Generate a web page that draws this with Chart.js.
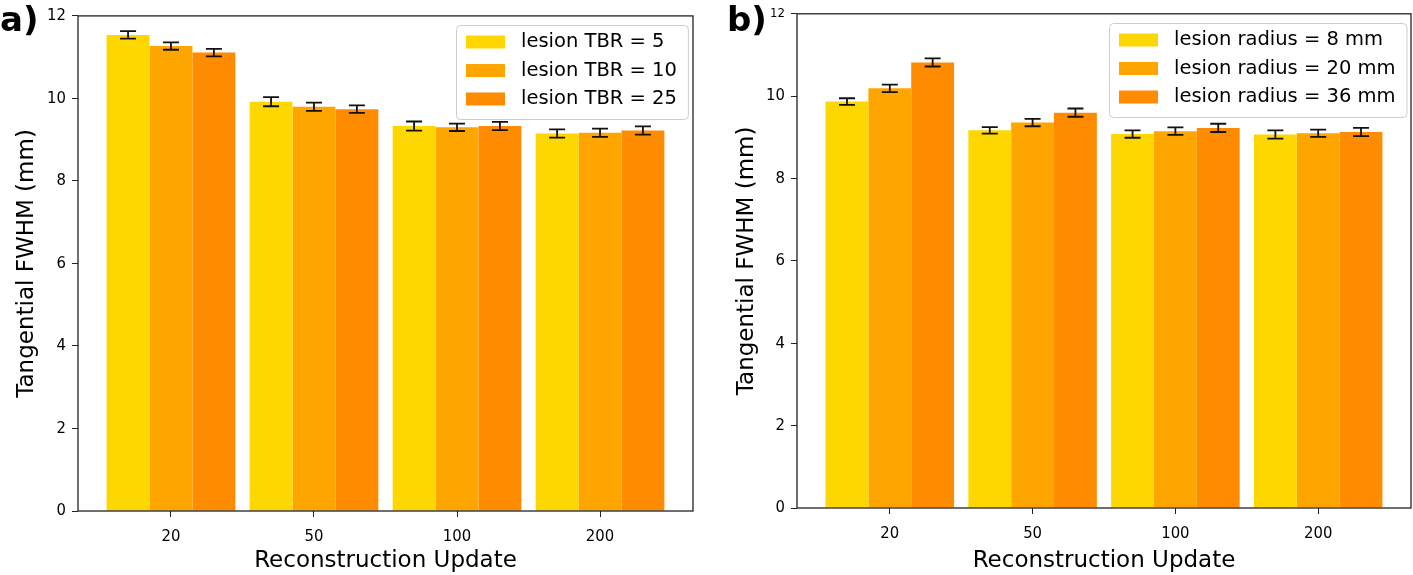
<!DOCTYPE html>
<html>
<head>
<meta charset="utf-8">
<script src="https://cdn.jsdelivr.net/npm/chart.js@4.4.0/dist/chart.umd.min.js"></script>
<style>
  html, body { margin: 0; padding: 0; background: #fff; }
  #wrap { position: relative; width: 1413px; height: 575px; overflow: hidden; }
  .panel { position: absolute; top: 0; height: 575px; }
  .tag { position: absolute; font: bold 34px 'DejaVu Sans', sans-serif; line-height: 1; color: #000; }
</style>
</head>
<body>
<div id="wrap">
  <div class="panel" style="left:0;width:706px"><canvas id="chartA" width="706" height="575"></canvas></div>
  <div class="panel" style="left:720px;width:693px"><canvas id="chartB" width="693" height="575"></canvas></div>
  <div class="tag" style="left:0;top:2px">a)</div>
  <div class="tag" style="left:727px;top:2px">b)</div>
</div>
<script>
// Categories (x axis)
const updates = ['20', '50', '100', '200'];
const yTicks = [0, 2, 4, 6, 8, 10, 12];

// Panel a: lesion TBR
const tbrLabels = ['lesion TBR = 5', 'lesion TBR = 10', 'lesion TBR = 25'];
const tbr5 = [11.54, 9.92, 9.33, 9.15];
const tbr10 = [11.27, 9.80, 9.30, 9.17];
const tbr25 = [11.11, 9.74, 9.33, 9.22];
const tbr5Err = [0.09, 0.11, 0.11, 0.10];
const tbr10Err = [0.09, 0.10, 0.09, 0.10];
const tbr25Err = [0.09, 0.09, 0.10, 0.10];

// Panel b: lesion radius
const radiusLabels = ['lesion radius = 8 mm', 'lesion radius = 20 mm', 'lesion radius = 36 mm'];
const r8 = [9.87, 9.17, 9.08, 9.07];
const r20 = [10.19, 9.36, 9.15, 9.10];
const r36 = [10.82, 9.60, 9.23, 9.13];
const r8Err = [0.08, 0.08, 0.09, 0.10];
const r20Err = [0.09, 0.09, 0.09, 0.09];
const r36Err = [0.10, 0.10, 0.10, 0.10];

const colors = ['#FFD700', '#FFA500', '#FF8C00'];
const FONT = "'DejaVu Sans', sans-serif";
const TICK_FONT = "'DejaVu Sans Condensed', 'DejaVu Sans', sans-serif";

// Error bars drawn through the y scale
const errorBarPlugin = {
  id: 'errorBars',
  afterDatasetsDraw(chart) {
    const ctx = chart.ctx;
    const y = chart.scales.y;
    ctx.save();
    ctx.strokeStyle = '#111';
    ctx.lineWidth = 1.8;
    chart.data.datasets.forEach((ds, i) => {
      const meta = chart.getDatasetMeta(i);
      meta.data.forEach((bar, j) => {
        const v = ds.data[j].y, e = ds.errors[j];
        const top = y.getPixelForValue(v + e);
        const bot = y.getPixelForValue(v - e);
        ctx.beginPath();
        ctx.moveTo(bar.x, top); ctx.lineTo(bar.x, bot);
        ctx.moveTo(bar.x - 8, top); ctx.lineTo(bar.x + 8, top);
        ctx.moveTo(bar.x - 8, bot); ctx.lineTo(bar.x + 8, bot);
        ctx.stroke();
      });
    });
    ctx.restore();
  }
};

// Full frame + boxed legend in the top right corner
const frameLegendPlugin = {
  id: 'frameLegend',
  afterDraw(chart) {
    const ctx = chart.ctx, a = chart.chartArea;
    ctx.save();
    ctx.strokeStyle = '#222';
    ctx.lineWidth = 1.3;
    ctx.strokeRect(a.left, a.top, a.right - a.left, a.bottom - a.top);

    ctx.font = '19.5px ' + FONT;
    const dsets = chart.data.datasets;
    const textW = Math.max(...dsets.map(d => ctx.measureText(d.label).width));
    const w = 10 + 39 + 16 + textW + 11, h = 94;
    const x0 = Math.round(a.right - 5 - w), y0 = Math.round(a.top + 9);
    ctx.beginPath();
    ctx.roundRect(x0 + 0.5, y0 + 0.5, w, h, 4);
    ctx.fillStyle = 'rgba(255,255,255,0.8)';
    ctx.fill();
    ctx.strokeStyle = '#cccccc';
    ctx.lineWidth = 1;
    ctx.stroke();
    dsets.forEach((d, i) => {
      const cy = y0 + 17 + i * 28.5;
      ctx.fillStyle = d.backgroundColor;
      ctx.fillRect(x0 + 10, cy - 6.5, 39, 13);
      ctx.fillStyle = '#000';
      ctx.textBaseline = 'middle';
      ctx.textAlign = 'left';
      ctx.fillText(d.label, x0 + 65, cy);
    });
    ctx.restore();
  }
};

function makeChart(id, labels, series, errors, layout) {
  const datasets = series.map((vals, k) => ({
    label: labels[k],
    data: vals.map((v, i) => ({ x: i, y: v })),
    errors: errors[k],
    backgroundColor: colors[k],
    borderWidth: 0,
    categoryPercentage: 0.9,
    barPercentage: 1.0
  }));

  return new Chart(document.getElementById(id).getContext('2d'), {
    type: 'bar',
    data: { datasets },
    options: {
      responsive: false,
      animation: false,
      devicePixelRatio: 1,
      layout: { padding: layout.padding },
      plugins: { legend: { display: false }, tooltip: { enabled: false } },
      scales: {
        x: {
          type: 'linear',
          min: -0.65,
          max: 3.65,
          offset: false,
          afterBuildTicks: s => { s.ticks = updates.map((_, i) => ({ value: i })); },
          afterFit: s => { s.height = layout.xH; },
          ticks: {
            callback: v => updates[v],
            font: { family: TICK_FONT, size: 16.5 },
            color: '#000',
            padding: 10,
            maxRotation: 0,
            autoSkip: false
          },
          grid: { offset: false, drawOnChartArea: false, tickLength: 6, color: '#222', lineWidth: 1 },
          border: { display: false },
          title: {
            display: true,
            text: 'Reconstruction Update',
            font: { family: FONT, size: 23 },
            color: '#000',
            padding: { top: 0, bottom: 0 }
          }
        },
        y: {
          min: 0,
          max: 12,
          afterBuildTicks: s => { s.ticks = yTicks.map(v => ({ value: v })); },
          afterFit: s => { s.width = layout.yW; },
          ticks: {
            font: ctx => ({ family: TICK_FONT, size: (layout.smallTop && ctx.tick && ctx.tick.value === 12) ? 13 : 16.5 }),
            color: '#000',
            padding: 6
          },
          grid: { drawOnChartArea: false, tickLength: 6, color: '#222', lineWidth: 1 },
          border: { display: false },
          title: {
            display: true,
            text: 'Tangential FWHM (mm)',
            font: { family: FONT, size: 23 },
            color: '#000',
            padding: { top: 13, bottom: 0 }
          }
        }
      }
    },
    plugins: [errorBarPlugin, frameLegendPlugin]
  });
}

makeChart('chartA', tbrLabels, [tbr5, tbr10, tbr25], [tbr5Err, tbr10Err, tbr25Err],
  { padding: { left: 0, right: 13, top: 10, bottom: 0 }, xH: 64, yW: 78, smallTop: false });
makeChart('chartB', radiusLabels, [r8, r20, r36], [r8Err, r20Err, r36Err],
  { padding: { left: 0, right: 2, top: 8, bottom: 0 }, xH: 67, yW: 77, smallTop: true });
</script>
</body>
</html>
